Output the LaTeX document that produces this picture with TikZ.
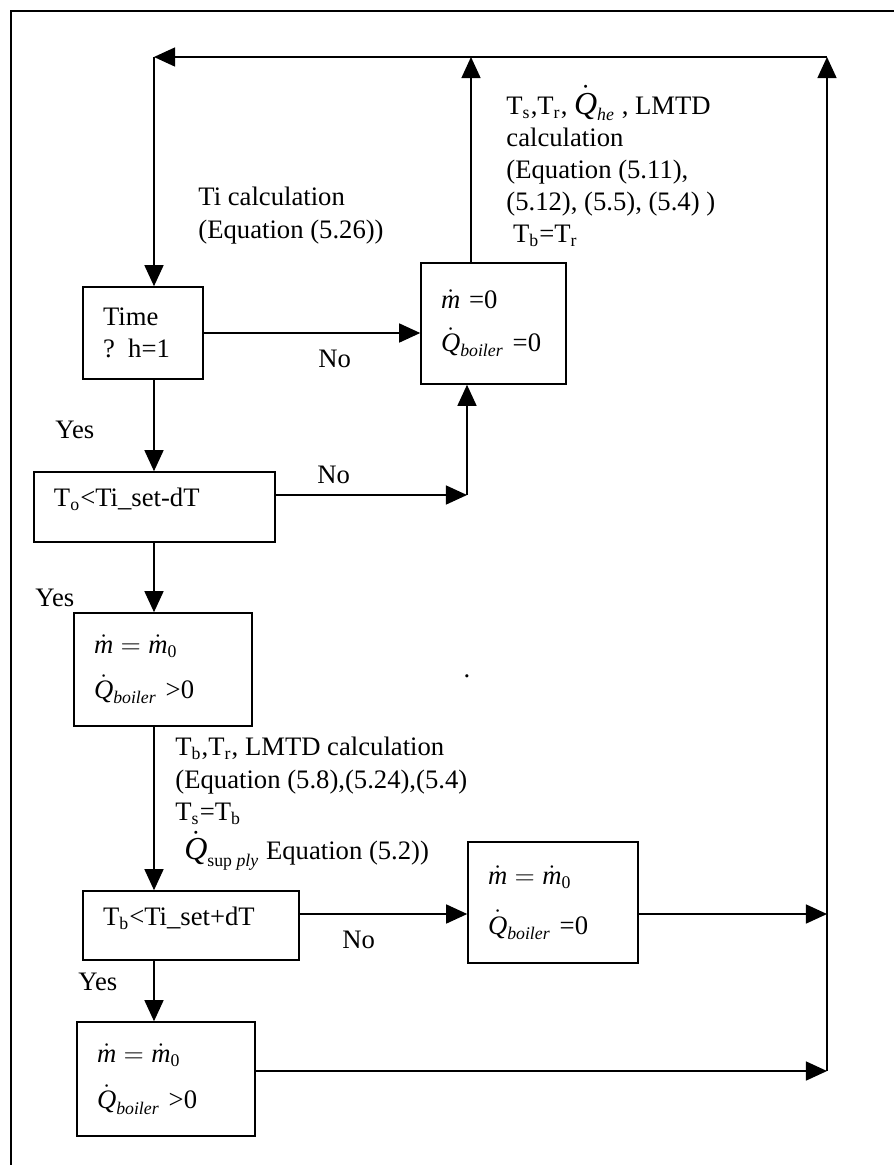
\documentclass[12pt,tikz,border=0pt]{standalone}
\usepackage{fontspec}
\setmainfont{Liberation Serif}
\usetikzlibrary{arrows.meta, positioning}
\newcommand{\flowdot}{\dot{\mbox{\itshape m}}}
\newcommand{\heatdot}[1]{\dot{\mbox{\itshape Q}}_{\mbox{\scriptsize\itshape #1}}}

\begin{document}
\begin{tikzpicture}[
    x=0.45pt, y=-0.45pt,
    box/.style={rectangle, draw, line width=0.7pt, inner xsep=9pt, inner ysep=0pt, align=left},
    arr/.style={-{Triangle[length=9.5pt, width=8.6pt]}, line width=0.6pt},
    note/.style={inner sep=0pt, anchor=north west, align=left},
    yn/.style={inner sep=0pt, anchor=base west}
  ]
    \useasboundingbox (0,0) rectangle (893,1165);
    \draw[line width=0.7pt] (11,1180) -- (11,11) -- (905,11);

    % decision and state boxes
    \node[box, text width=36pt, minimum height=41.4pt] (time) at (143,333) {Time\\? h=1};
    \node[box, text width=47.25pt, minimum height=54.45pt] (zero) at (493.5,323.5)
        {$\flowdot$ =0\\[4.5pt]$\heatdot{boiler}$ =0};
    \node[box, text width=90.45pt, minimum height=31.5pt, text depth=8.5pt] (tocheck) at (154.5,507)
        {T\textsubscript{o}<Ti\_set-dT};
    \node[box, text width=62.1pt, minimum height=50.85pt] (heaton) at (163,669.5)
        {$\flowdot = \flowdot_{\mbox{\scriptsize 0}}$\\[5.5pt]$\heatdot{boiler}$ >0};
    \node[box, text width=79.2pt, minimum height=31.05pt, text depth=8.5pt] (tbcheck) at (191,925.5)
        {T\textsubscript{b}<Ti\_set+dT};
    \node[box, text width=58.5pt, minimum height=54.45pt] (heatoff) at (553,902.5)
        {$\flowdot = \flowdot_{\mbox{\scriptsize 0}}$\\[8pt]$\heatdot{boiler}$ =0};
    \node[box, text width=62.1pt, minimum height=51.3pt] (heatkeep) at (166,1079)
        {$\flowdot = \flowdot_{\mbox{\scriptsize 0}}$\\[6.5pt]$\heatdot{boiler}$ >0};

    % calculation notes
    \node[note] (ticalc) at (198,187) {Ti calculation\\(Equation (5.26))};
    \node[note] (offcalc) at (506,85)
        {T\textsubscript{s},T\textsubscript{r}, {\large$\heatdot{he}$} , LMTD\\calculation\\(Equation (5.11),\\(5.12), (5.5), (5.4) )\\\hspace*{3pt}T\textsubscript{b}=T\textsubscript{r}};
    \node[note] (oncalc) at (175,737)
        {T\textsubscript{b},T\textsubscript{r}, LMTD calculation\\(Equation (5.8),(5.24),(5.4)\\T\textsubscript{s}=T\textsubscript{b}\\[2pt]\hspace*{4pt}{\large$\heatdot{{\upshape sup} ply}$} Equation (5.2))};
    \node (stray) at (467,676) {.};

    % yes / no
    \node[yn] (no1) at (318,367) {No};
    \node[yn] (no2) at (317,483) {No};
    \node[yn] (no3) at (342,948) {No};
    \node[yn] (yes1) at (55,438) {Yes};
    \node[yn] (yes2) at (35,606) {Yes};
    \node[yn] (yes3) at (78,990) {Yes};

    \coordinate (loopL) at (154,57);
    \coordinate (loopR) at (827,57);
    \coordinate (loopM) at (471,57);
    \coordinate (join) at (467,495);
    \coordinate (backA) at (827,914);
    \coordinate (backB) at (827,1071);

    \draw[arr] (loopR) -- (loopL);
    \draw[arr] (loopL) -- (loopL |- time.north);
    \draw[arr] (loopM |- zero.north) -- (loopM);
    \draw[arr] (time.east) -- (time.east -| zero.west);
    \draw[arr] (loopL |- time.south) -- (loopL |- tocheck.north);
    \draw[arr] (tocheck.east |- join) -- (join);
    \draw[arr] (join) -- (join |- zero.south);
    \draw[arr] (loopL |- tocheck.south) -- (loopL |- heaton.north);
    \draw[arr] (loopL |- heaton.south) -- (loopL |- tbcheck.north);
    \draw[arr] (tbcheck.east |- backA) -- (heatoff.west |- backA);
    \draw[arr] (heatoff.east |- backA) -- (backA);
    \draw[arr] (loopL |- tbcheck.south) -- (loopL |- heatkeep.north);
    \draw[arr] (heatkeep.east |- backB) -- (backB);
    \draw[arr] (backB) -- (loopR);
\end{tikzpicture}
\end{document}
